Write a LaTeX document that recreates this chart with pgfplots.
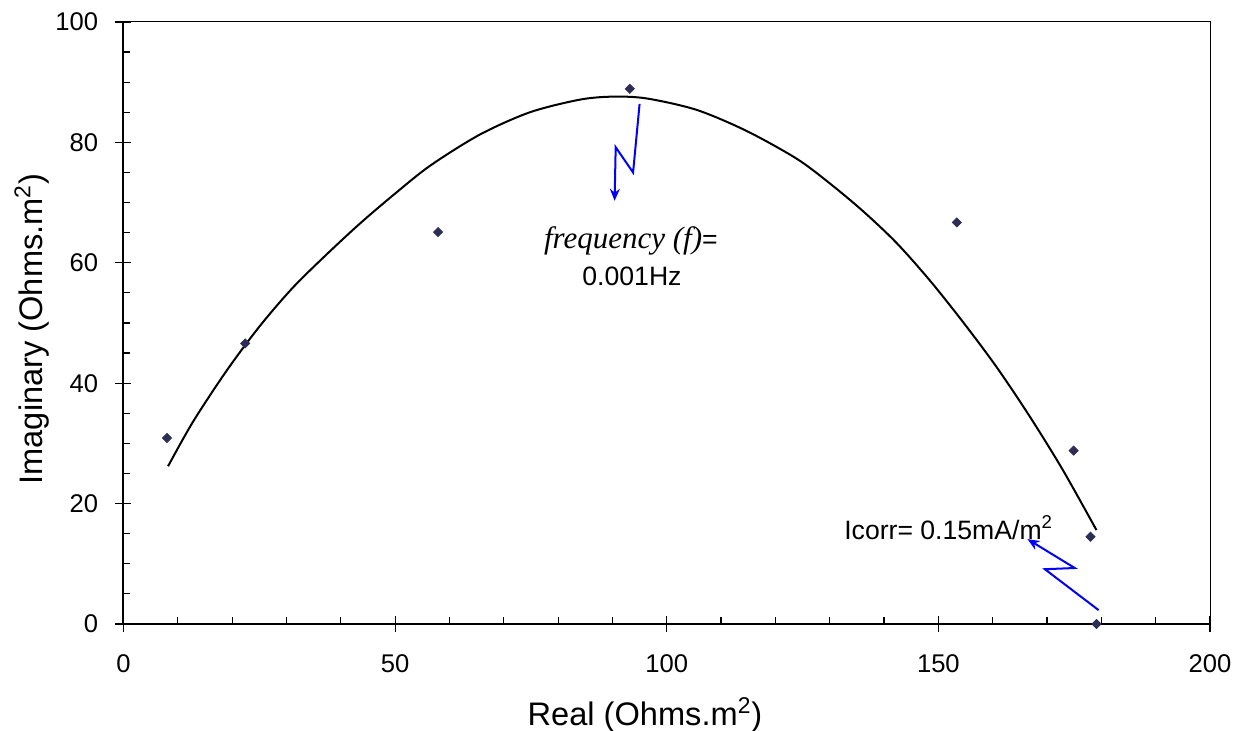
\documentclass[border=0pt]{standalone}
\usepackage{fontspec}
\setmainfont{Liberation Sans}
\newfontfamily\timesfont{Liberation Serif}
\usepackage{pgfplots}
\pgfplotsset{compat=1.18}
\usetikzlibrary{arrows.meta}
\definecolor{markc}{RGB}{45,45,85}
\begin{document}
\begin{tikzpicture}
\useasboundingbox (-61.75pt,-53.5pt) rectangle (556.75pt,312pt);
\begin{axis}[
 at={(0,0)}, anchor=south west,
 scale only axis, width=543.25pt, height=301pt,
 xmin=0,xmax=200,ymin=0,ymax=100,
 xtick={0,50,...,200}, ytick={0,20,...,100},
 minor x tick num=4, minor y tick num=3,
 xtick pos=left, ytick pos=left,
 tick align=inside,
 major tick length=8pt, minor tick length=3.5pt,
 every major x tick/.append style={yshift=-4pt},
 every major y tick/.append style={xshift=-4pt},
 tick style={black, line width=0.6pt},
 axis line style={black, line width=0.5pt},
 ticklabel style={font=\fontsize{12.8}{15}\selectfont},
 xticklabel style={inner sep=0pt, anchor=north, yshift=-15pt},
 yticklabel style={inner sep=0pt, anchor=east, xshift=-12.5pt},
 /pgf/number format/assume math mode=true,
 clip=false,
]
\addplot[black, line width=1pt, smooth, tension=0.5, no marks] coordinates {
 (8.2,26.2) (12.8,33.6) (19.0,42.1) (25.1,49.5) (31.2,55.9) (37.4,61.4)
 (43.5,66.5) (49.6,71.2) (56.4,76.1) (65.6,81.3) (74.8,85.0) (84.0,87.1)
 (90.1,87.6) (96.3,87.3) (105.5,85.4) (114.7,81.9) (123.9,77.3) (130.0,73.2)
 (136.1,68.6) (142.3,63.3) (148.4,57.1) (154.5,50.2) (160.7,42.7)
 (166.8,34.5) (172.9,25.6) (179.1,15.6)
};
\addplot[only marks, mark=square*, mark size=1.6pt, mark options={rotate=45, fill=markc, draw=markc}] coordinates {
 (8.0,30.9) (22.4,46.6) (57.9,65.1) (93.2,88.9) (153.4,66.7) (174.9,28.8) (178.0,14.5) (179.1,0)
};
\draw[line width=1pt] (rel axis cs:0,1) -- (rel axis cs:0,0) -- (rel axis cs:1,0);
\draw[blue, line width=1pt, -{Stealth[length=6pt,width=5pt]}] (axis cs:95.0,86.4) -- (axis cs:93.8,75.0) -- (axis cs:90.6,79.2) -- (axis cs:90.4,70.3);
\draw[blue, line width=1pt, -{Stealth[length=6pt,width=5pt]}] (axis cs:179.5,2.3) -- (axis cs:169.6,9.1) -- (axis cs:175.1,9.3) -- (axis cs:166.4,14.1);
\node[font=\fontsize{13.3}{16}\selectfont] at (axis cs:93.4,63.6) {{\timesfont\itshape\fontsize{15.5}{18}\selectfont frequency (f)}=};
\node[font=\fontsize{13.3}{16}\selectfont] at (axis cs:93.6,57.7) {0.001Hz};
\node[font=\fontsize{13.3}{16}\selectfont] at (axis cs:151.9,16.0) {Icorr= 0.15mA/m\textsuperscript{2}};
\node[font=\fontsize{16.3}{19}\selectfont] at (axis description cs:0.48,0) [yshift=-45.5pt] {Real (Ohms.m\textsuperscript{2})};
\node[xshift=-45.75pt, rotate=90, font=\fontsize{16.3}{19}\selectfont] at (axis description cs:0,0.49) {Imaginary (Ohms.m\textsuperscript{2})};
\end{axis}
\end{tikzpicture}
\end{document}
